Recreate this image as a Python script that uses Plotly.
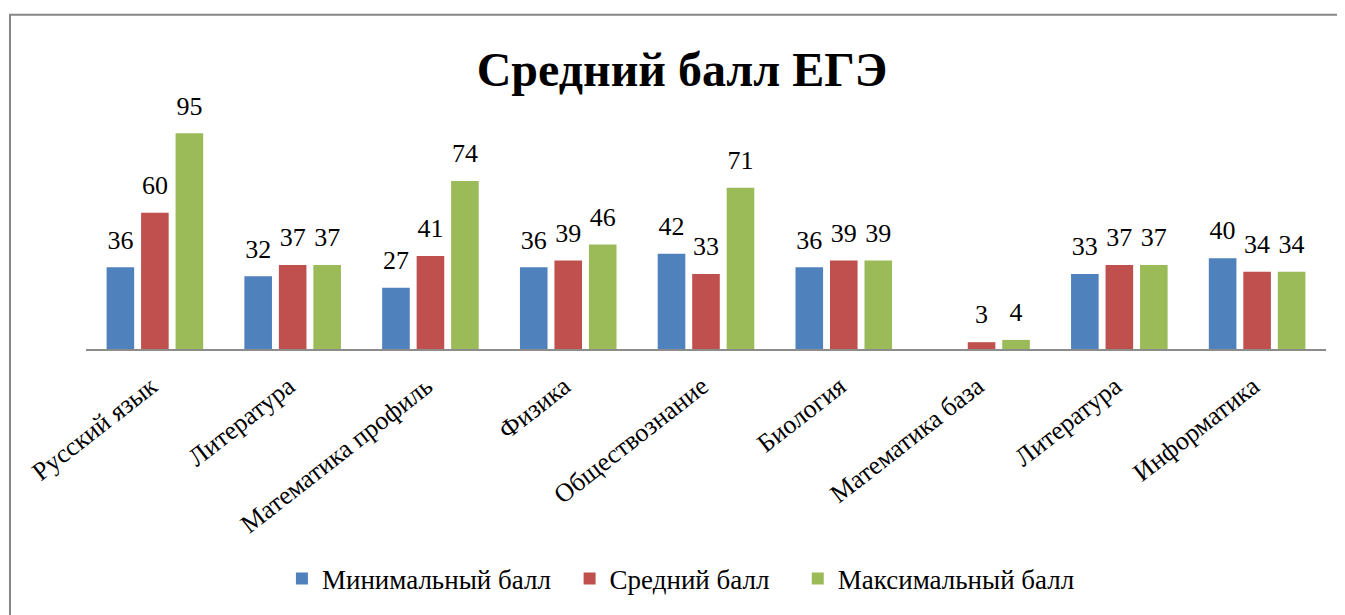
import plotly.graph_objects as go

categories = ["Русский язык", "Литература", "Математика профиль", "Физика",
              "Обществознание", "Биология", "Математика база", "Литература", "Информатика"]
min_scores = [36, 32, 27, 36, 42, 36, None, 33, 40]
avg_scores = [60, 37, 41, 39, 33, 39, 3, 37, 34]
max_scores = [95, 37, 74, 46, 71, 39, 4, 37, 34]
series_names = ["Минимальный балл", "Средний балл", "Максимальный балл"]
colors = ["#4F81BD", "#C0504D", "#9BBB59"]
legend_ids = ["legend", "legend2", "legend3"]
legend_x = [0.158, 0.390, 0.574]

positions = list(range(len(categories)))
FONT = "Liberation Serif"

fig = go.Figure()
for name, vals, col, lg in zip(series_names, [min_scores, avg_scores, max_scores], colors, legend_ids):
    fig.add_trace(go.Bar(x=positions, y=vals, name=name, marker_color=col,
                         marker_line_width=0, hoverinfo="x+y", legend=lg))
for name, vals in zip(series_names, [min_scores, avg_scores, max_scores]):
    fig.add_trace(go.Scatter(
        x=positions, y=vals, mode="markers+text", showlegend=False,
        text=[("" if v is None else str(v)) for v in vals],
        textposition="top center",
        textfont=dict(family=FONT, size=26, color="#000000"),
        marker=dict(size=18, color="rgba(0,0,0,0)"),
        hoverinfo="skip", cliponaxis=False,
    ))

W, H = 1337, 607
legend_common = dict(orientation="h", xanchor="left", y=-1.013, yanchor="middle",
                     font=dict(family=FONT, size=27, color="#000000"), itemclick=False,
                     bgcolor="rgba(0,0,0,0)")
fig.update_layout(
    width=W, height=H,
    margin=dict(l=78, r=19, t=114, b=263),
    paper_bgcolor="white", plot_bgcolor="white",
    barmode="group", bargap=0.249, bargroupgap=0.2,
    scattermode="group", scattergap=0.249,
    font=dict(family=FONT, size=26, color="#000000"),
    title=dict(text="<b>Средний балл ЕГЭ</b>", x=(682 - 8) / W, xanchor="center",
               y=1 - 61 / H, yanchor="middle",
               font=dict(family=FONT, size=48, color="#000000")),
    xaxis=dict(range=[-0.5, len(categories) - 0.5], tickvals=positions, ticktext=categories,
               tickangle=-38, showgrid=False, zeroline=False, showline=True,
               linecolor="#8C8C8C", linewidth=2, ticks="",
               ticklabelstandoff=10, ticklabelshift=-4,
               tickfont=dict(family=FONT, size=26, color="#000000")),
    yaxis=dict(range=[0, 100], visible=False, showgrid=False, zeroline=False),
    legend=dict(x=legend_x[0], **legend_common),
    legend2=dict(x=legend_x[1], **legend_common),
    legend3=dict(x=legend_x[2], **legend_common),
    showlegend=True,
    shapes=[dict(type="rect", xref="paper", yref="paper",
                 x0=-0.0613, x1=1.027, y0=-1.209, y1=1.472,
                 line=dict(color="#878787", width=2), fillcolor="rgba(0,0,0,0)", layer="below")],
)

fig.write_html("out.html")
